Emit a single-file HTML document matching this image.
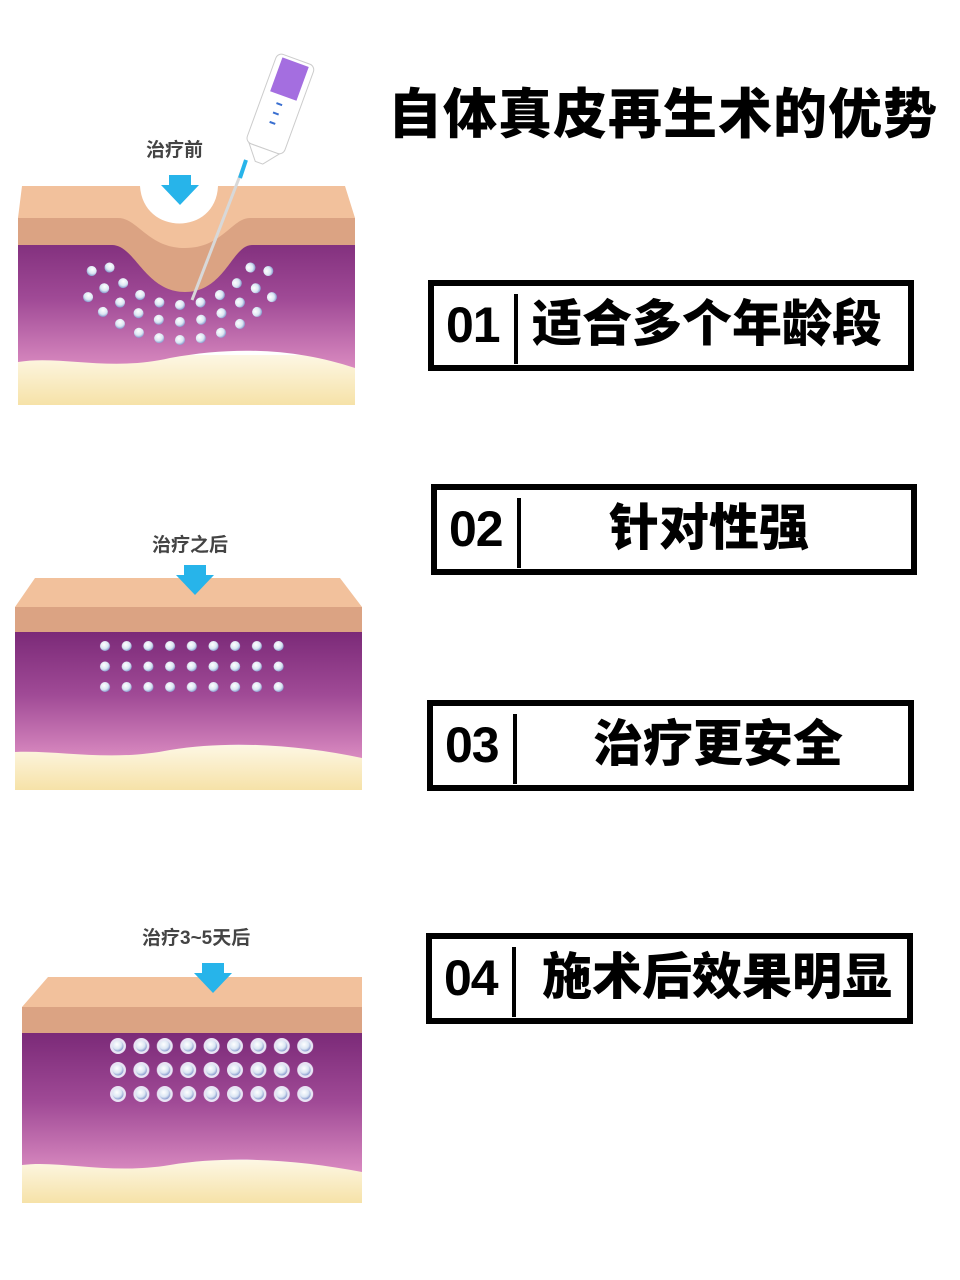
<!DOCTYPE html>
<html><head><meta charset="utf-8"><style>
body{margin:0;background:#fff;width:960px;height:1280px;overflow:hidden;position:relative;font-family:"Liberation Sans","Noto Sans CJK SC",sans-serif}
.title{position:absolute;left:388px;top:70px;font-size:54px;font-weight:900;letter-spacing:1px;color:#000;white-space:nowrap}
.box{position:absolute;border:6px solid #000;box-sizing:border-box;height:91px;background:#fff}
.num{position:absolute;left:12px;top:10px;font-size:50px;font-weight:700;font-family:"Liberation Sans",sans-serif;letter-spacing:-1px}
.bar{position:absolute;left:80px;top:8px;width:4px;height:70px;background:#000}
.txt{position:absolute;top:2px;font-size:50px;line-height:72px;font-weight:900;white-space:nowrap}
.lbl{position:absolute;font-size:19px;font-weight:700;color:#444}
</style></head><body>
<svg width="960" height="1280" style="position:absolute;left:0;top:0">
<defs>
<linearGradient id="pur" x1="0" y1="0" x2="0" y2="1"><stop offset="0" stop-color="#7b2a78"/><stop offset="0.5" stop-color="#a04a96"/><stop offset="1" stop-color="#d98ac0"/></linearGradient>
<linearGradient id="cre" x1="0" y1="0" x2="0" y2="1"><stop offset="0" stop-color="#fdf7e4"/><stop offset="1" stop-color="#f6e2a8"/></linearGradient>
<radialGradient id="ball" cx="0.4" cy="0.35" r="0.7"><stop offset="0" stop-color="#ffffff"/><stop offset="0.6" stop-color="#dbe6f3"/><stop offset="1" stop-color="#7a8ec8"/></radialGradient>
<pattern id="d2" x="97" y="638" width="21.7" height="20.5" patternUnits="userSpaceOnUse"><circle cx="8" cy="8" r="5" fill="url(#ball)"/></pattern>
<pattern id="d3" x="108" y="1036" width="23.4" height="24" patternUnits="userSpaceOnUse"><circle cx="10" cy="10" r="8" fill="#e8e4f4"/><circle cx="10" cy="10" r="5.5" fill="url(#ball)"/></pattern>
<polygon id="arr" points="-11,0 11,0 11,10 19,10 0,30 -19,10 -11,10" fill="#27b4ea"/>
</defs>
<!-- panel 1 -->
<rect x="18" y="355" width="337" height="50" fill="url(#cre)"/>
<path d="M18 230 H355 V368 C300 350 240 345 170 358 C110 372 60 355 18 362 Z" fill="url(#pur)"/>
<path d="M18 218 H355 V245 H252 C232 245 225 292 185 292 C145 292 135 245 112 245 H18 Z" fill="#dba383"/>
<path d="M22 186 H345 L355 218 H250 C232 218 222 248 185 248 C148 248 138 218 118 218 H18 Z" fill="#f2c19c"/>
<path d="M140 186 C143 236 216 236 218 186 Z" fill="#fff"/>
<use href="#arr" x="180" y="175"/>
<g fill="url(#ball)">
<circle cx="180" cy="305" r="5" transform="rotate(-56 180 220)"/><circle cx="180" cy="305" r="5" transform="rotate(-42 180 220)"/><circle cx="180" cy="305" r="5" transform="rotate(-28 180 220)"/><circle cx="180" cy="305" r="5" transform="rotate(-14 180 220)"/><circle cx="180" cy="305" r="5"/><circle cx="180" cy="305" r="5" transform="rotate(14 180 220)"/><circle cx="180" cy="305" r="5" transform="rotate(28 180 220)"/><circle cx="180" cy="305" r="5" transform="rotate(42 180 220)"/><circle cx="180" cy="305" r="5" transform="rotate(56 180 220)"/>
<circle cx="180" cy="322" r="5" transform="rotate(-60 180 220)"/><circle cx="180" cy="322" r="5" transform="rotate(-48 180 220)"/><circle cx="180" cy="322" r="5" transform="rotate(-36 180 220)"/><circle cx="180" cy="322" r="5" transform="rotate(-24 180 220)"/><circle cx="180" cy="322" r="5" transform="rotate(-12 180 220)"/><circle cx="180" cy="322" r="5"/><circle cx="180" cy="322" r="5" transform="rotate(12 180 220)"/><circle cx="180" cy="322" r="5" transform="rotate(24 180 220)"/><circle cx="180" cy="322" r="5" transform="rotate(36 180 220)"/><circle cx="180" cy="322" r="5" transform="rotate(48 180 220)"/><circle cx="180" cy="322" r="5" transform="rotate(60 180 220)"/>
<circle cx="180" cy="340" r="5" transform="rotate(-50 180 220)"/><circle cx="180" cy="340" r="5" transform="rotate(-40 180 220)"/><circle cx="180" cy="340" r="5" transform="rotate(-30 180 220)"/><circle cx="180" cy="340" r="5" transform="rotate(-20 180 220)"/><circle cx="180" cy="340" r="5" transform="rotate(-10 180 220)"/><circle cx="180" cy="340" r="5"/><circle cx="180" cy="340" r="5" transform="rotate(10 180 220)"/><circle cx="180" cy="340" r="5" transform="rotate(20 180 220)"/><circle cx="180" cy="340" r="5" transform="rotate(30 180 220)"/><circle cx="180" cy="340" r="5" transform="rotate(40 180 220)"/><circle cx="180" cy="340" r="5" transform="rotate(50 180 220)"/>
</g>
<line x1="246" y1="160" x2="192" y2="300" stroke="#d8d8d8" stroke-width="3"/>
<line x1="246" y1="160" x2="240" y2="178" stroke="#27b4ea" stroke-width="4"/>
<g transform="rotate(20 275 110)">
<rect x="258" y="55" width="40" height="95" rx="6" fill="#fff" stroke="#ccc"/>
<rect x="264" y="58" width="28" height="36" fill="#a46ee0"/>
<path d="M262 150 L294 150 L282 165 L274 165Z" fill="#fff" stroke="#ccc"/>
<rect x="274" y="102" width="6" height="2" fill="#3a6fd0"/><rect x="274" y="112" width="6" height="2" fill="#3a6fd0"/><rect x="274" y="122" width="6" height="2" fill="#3a6fd0"/>
</g>
<!-- panel 2 -->
<rect x="15" y="745" width="347" height="45" fill="url(#cre)"/>
<path d="M15 632 H362 V758 C300 745 230 740 170 750 C110 762 60 750 15 752 Z" fill="url(#pur)"/>
<rect x="15" y="607" width="347" height="25" fill="#dba383"/>
<polygon points="35,578 340,578 362,607 15,607" fill="#f2c19c"/>
<rect x="97" y="638" width="195" height="62" fill="url(#d2)"/>
<use href="#arr" x="195" y="565"/>
<!-- panel 3 -->
<rect x="22" y="1160" width="340" height="43" fill="url(#cre)"/>
<path d="M22 1033 H362 V1172 C300 1160 230 1155 170 1165 C110 1175 60 1160 22 1165 Z" fill="url(#pur)"/>
<rect x="22" y="1007" width="340" height="26" fill="#dba383"/>
<polygon points="48,977 362,977 362,1007 22,1007" fill="#f2c19c"/>
<rect x="108" y="1036" width="210" height="70" fill="url(#d3)"/>
<use href="#arr" x="213" y="963"/>
</svg>
<div class="lbl" style="left:146px;top:135px">治疗前</div>
<div class="lbl" style="left:152px;top:530px">治疗之后</div>
<div class="lbl" style="left:142px;top:923px">治疗3~5天后</div>
<div class="title">自体真皮再生术的优势</div>
<div class="box" style="left:428px;top:280px;width:486px"><div class="num">01</div><div class="bar"></div><div class="txt" style="left:98px">适合多个年龄段</div></div>
<div class="box" style="left:431px;top:484px;width:486px"><div class="num">02</div><div class="bar"></div><div class="txt" style="left:172px">针对性强</div></div>
<div class="box" style="left:427px;top:700px;width:487px"><div class="num">03</div><div class="bar"></div><div class="txt" style="left:160px">治疗更安全</div></div>
<div class="box" style="left:426px;top:933px;width:487px"><div class="num">04</div><div class="bar"></div><div class="txt" style="left:110px">施术后效果明显</div></div>
</body></html>
